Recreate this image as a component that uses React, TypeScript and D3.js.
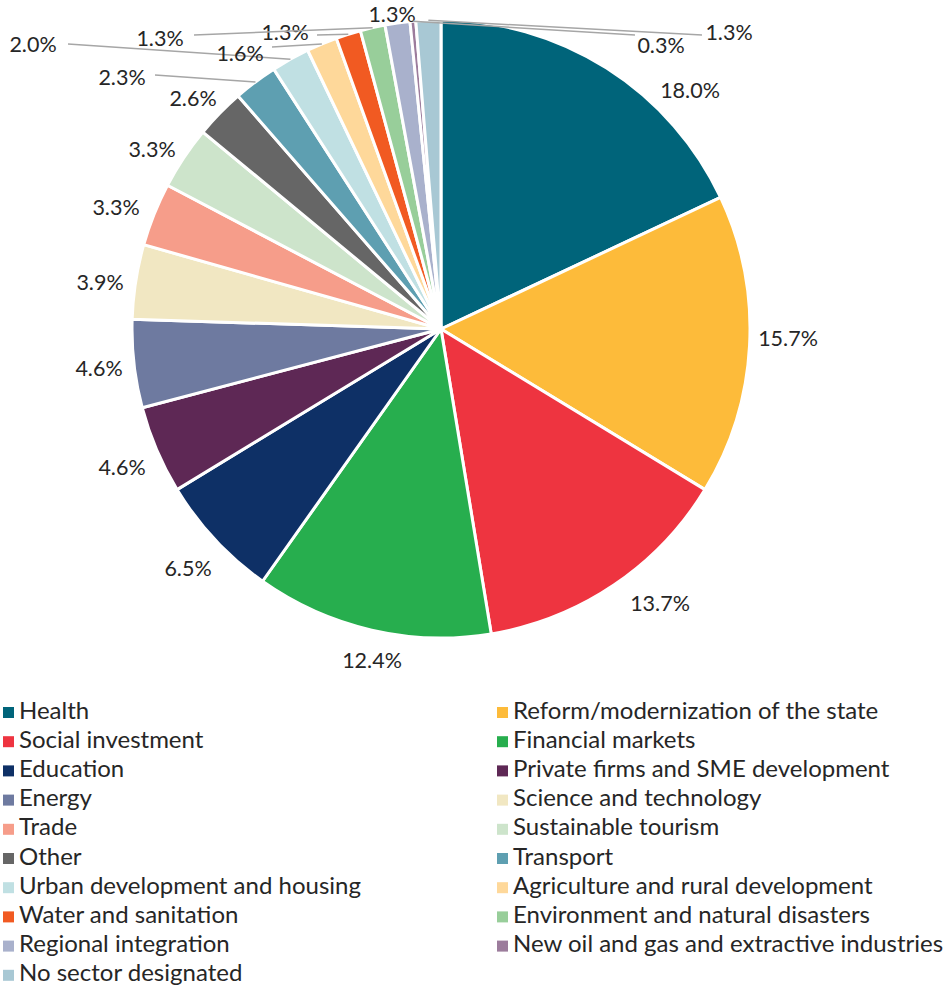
import React from "react";
import * as d3 from "d3";

const categories = [
  "Health",
  "Reform/modernization of the state",
  "Social investment",
  "Financial markets",
  "Education",
  "Private firms and SME development",
  "Energy",
  "Science and technology",
  "Trade",
  "Sustainable tourism",
  "Other",
  "Transport",
  "Urban development and housing",
  "Agriculture and rural development",
  "Water and sanitation",
  "Environment and natural disasters",
  "Regional integration",
  "New oil and gas and extractive industries",
  "No sector designated",
];

const values = [18.0, 15.7, 13.7, 12.4, 6.5, 4.6, 4.6, 3.9, 3.3, 3.3, 2.6, 2.3, 2.0, 1.6, 1.3, 1.3, 1.3, 0.3, 1.3];

const colors = [
  "#00647A", "#FDBB3A", "#EE3440", "#27AE4E", "#0E3066", "#5E2855", "#6E7AA0",
  "#F1E7C2", "#F69D8A", "#CDE4CB", "#666666", "#5E9FB1", "#C0E0E3", "#FED89A",
  "#F15A22", "#98CE9A", "#A9B1CC", "#9C7C9C", "#A8C8D4",
];

// data-label placement (annotation layout): label center, optional leader-line end
const labelLayout: { lx: number; ly: number; ex?: number; ey?: number }[] = [
  { lx: 690, ly: 90 },
  { lx: 788, ly: 338 },
  { lx: 660, ly: 603 },
  { lx: 372, ly: 660 },
  { lx: 188, ly: 568 },
  { lx: 122, ly: 467 },
  { lx: 99, ly: 368 },
  { lx: 100, ly: 282 },
  { lx: 116, ly: 207 },
  { lx: 152, ly: 149 },
  { lx: 193, ly: 98 },
  { lx: 122, ly: 77, ex: 155, ey: 75 },
  { lx: 33, ly: 44, ex: 68, ey: 44 },
  { lx: 240, ly: 53, ex: 272, ey: 47 },
  { lx: 285, ly: 32, ex: 317, ey: 35 },
  { lx: 160, ly: 38, ex: 194, ey: 35 },
  { lx: 392, ly: 14 },
  { lx: 661, ly: 45, ex: 635, ey: 35 },
  { lx: 729, ly: 32, ex: 702, ey: 35 },
];

const W = 950;
const H = 990;
const cx = 441;
const cy = 329;
const R = 309;
const FONT = "Lato, 'Noto Sans', sans-serif";

export default function App() {
  const data = categories.map((c, i) => ({ name: c, value: values[i], color: colors[i], i }));
  const pie = d3.pie<any>().value((d) => d.value).sort(null);
  const arcs = pie(data);
  const arc = d3.arc<any>().innerRadius(0).outerRadius(R);

  const polar = (a: number, r: number) => [cx + r * Math.sin(a), cy - r * Math.cos(a)];

  const legendY0 = 710;
  const legendStep = 29.2;

  return (
    <svg
      width={W}
      height={H}
      style={{ position: "absolute", left: 0, top: 0, background: "#fff" }}
      fontFamily={FONT}
    >
      <g transform={`translate(${cx},${cy})`}>
        {arcs.map((a, k) => (
          <path key={k} d={arc(a) as string} fill={a.data.color} stroke="#fff" strokeWidth={3} strokeLinejoin="round" />
        ))}
      </g>
      {arcs.map((a, k) => {
        const mid = (a.startAngle + a.endAngle) / 2;
        const lay = labelLayout[k];
        const [sx, sy] = polar(mid, R);
        return (
          <g key={k}>
            {lay.ex !== undefined && (
              <line x1={sx} y1={sy} x2={lay.ex} y2={lay.ey} stroke="#A6A6A6" strokeWidth={1.5} />
            )}
            <text x={lay.lx} y={lay.ly} dy="0.36em" textAnchor="middle" fontSize={21.5} fill="#262626">
              {a.data.value.toFixed(1)}%
            </text>
          </g>
        );
      })}
      {data.map((d, i) => {
        const col = i % 2;
        const row = Math.floor(i / 2);
        const x = col === 0 ? 3 : 497;
        const y = legendY0 + row * legendStep;
        return (
          <g key={i}>
            <rect x={x} y={y - 3} width={11} height={11} fill={d.color} />
            <text x={x + 16} y={y} dy="0.36em" fontSize={24} fill="#262626">
              {d.name}
            </text>
          </g>
        );
      })}
    </svg>
  );
}
